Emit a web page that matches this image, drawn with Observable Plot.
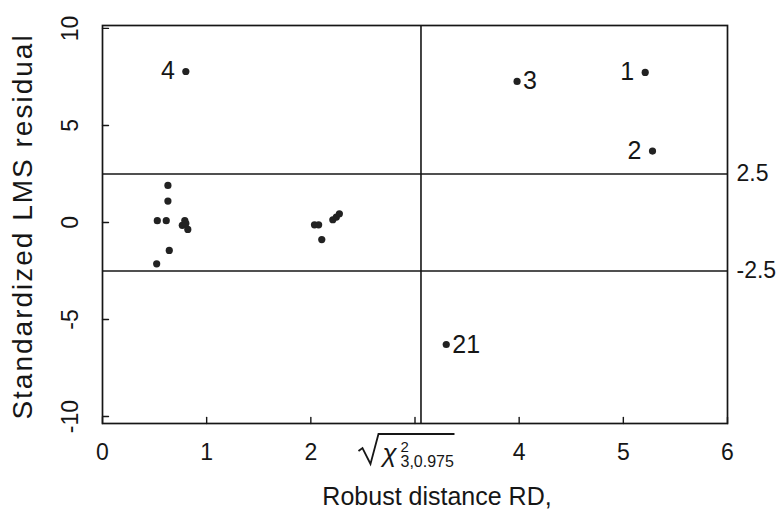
<!DOCTYPE html>
<html><head><meta charset="utf-8">
<script src="https://cdn.jsdelivr.net/npm/d3@7"></script>
<script src="https://cdn.jsdelivr.net/npm/@observablehq/plot@0.6"></script>
<style>body{margin:0;background:#fff}</style>
</head><body><div id="chart"></div>
<script>
// ---- data ----
const pointIds    = ["1","2","3","4","21", "","","","","","","","","","", "","","","","",""];
const rdValues    = [5.21, 5.28, 3.98, 0.80, 3.30,
                     0.628, 0.628, 0.526, 0.612, 0.790, 0.766, 0.819, 0.641, 0.520, 0.80,
                     2.035, 2.075, 2.105, 2.211, 2.245, 2.274];
const residValues = [7.73, 3.68, 7.27, 7.78, -6.29,
                     1.91, 1.10, 0.09, 0.09, 0.10, -0.15, -0.36, -1.44, -2.13, -0.05,
                     -0.12, -0.12, -0.88, 0.14, 0.28, 0.45];
const xTicks = [0, 1, 2, 3, 4, 5, 6];
const xTickLabels = ["0", "1", "2", "", "4", "5", "6"];
const yTicks = [-10, -5, 0, 5, 10];
const yTickLabels = ["-10", "-5", "0", "5", "10"];
const cutoffResid = [2.5, -2.5];
const cutoffResidLabels = ["2.5", "-2.5"];
const cutoffRd = Math.sqrt(9.348); // sqrt(chi2_{3,0.975})
const xTitle = "Robust distance RD,";
const yTitle = "Standardized LMS residual";
const leftLabelled = new Set(["1", "2", "4"]);

const points = rdValues.map((x, i) => ({x, y: residValues[i], id: pointIds[i]}));
const ink = "#161616";
const font = "'Liberation Sans', Arial, Helvetica, sans-serif";
const tickShape = {draw(ctx, l) { ctx.moveTo(0, 0); ctx.lineTo(0, -l); }};

const plot = Plot.plot({
  width: 784, height: 521,
  marginLeft: 102, marginRight: 57, marginTop: 25, marginBottom: 98,
  x: {domain: [0, 6], axis: null},
  y: {domain: [-10.36, 10.15], axis: null},
  style: {fontFamily: font, background: "#fff", color: ink},
  marks: [
    Plot.ruleY(cutoffResid, {y: d => d, stroke: ink, strokeWidth: 1.6}),
    Plot.ruleX([cutoffRd], {x: d => d, stroke: ink, strokeWidth: 1.6}),
    Plot.frame({stroke: ink, strokeWidth: 1.7}),
    Plot.vector(xTicks, {x: d => d, frameAnchor: "bottom", length: 6, rotate: 0, anchor: "start", shape: tickShape, stroke: ink, strokeWidth: 1.4}),
    Plot.vector(yTicks, {y: d => d, frameAnchor: "left", length: 6, rotate: 90, anchor: "start", shape: tickShape, stroke: ink, strokeWidth: 1.4}),
    Plot.dot(points, {x: "x", y: "y", r: 3.6, fill: "#222", stroke: "none"}),
    Plot.text(points.filter(d => leftLabelled.has(d.id)), {x: "x", y: "y", text: "id", textAnchor: "end", dx: -11, fontSize: 25, fill: ink}),
    Plot.text(points.filter(d => d.id && !leftLabelled.has(d.id)), {x: "x", y: "y", text: "id", textAnchor: "start", dx: 6, fontSize: 25, fill: ink}),
    Plot.text(xTicks, {x: d => d, text: (d, i) => xTickLabels[i], frameAnchor: "bottom", dy: 36, fontSize: 23, fill: ink}),
    Plot.text(yTicks, {y: d => d, text: (d, i) => yTickLabels[i], frameAnchor: "left", textAnchor: "middle", dx: -32, rotate: -90, fontSize: 23, fill: ink}),
    Plot.text(cutoffResid, {y: d => d, text: (d, i) => cutoffResidLabels[i], frameAnchor: "right", dx: 9, textAnchor: "start", fontSize: 23, fill: ink}),
    Plot.text([xTitle], {frameAnchor: "bottom", dy: 81, dx: 22, fontSize: 25, fill: ink}),
    Plot.text([yTitle], {frameAnchor: "left", textAnchor: "middle", dx: -79, dy: 2, rotate: -90, fontSize: 28, fill: ink, className: "ytitle"})
  ]
});

// slightly looser tracking of the vertical title, as in the reference
d3.select(plot).selectAll(".ytitle text").style("letter-spacing", "2px");

// sqrt(chi^2_{3,0.975}) label under the cutoff line
const svg = d3.select(plot);
const xc = plot.scale("x").apply(cutoffRd);
const yb = plot.scale("y").apply(-10.36);
const g = svg.append("g").attr("transform", `translate(${xc},${yb})`)
  .attr("fill", ink).attr("text-anchor", "start").style("font-family", font);
g.append("path").attr("d", "M-62,28 L-58,25 L-50,41 L-42,11 L34,11")
  .attr("fill", "none").attr("stroke", ink).attr("stroke-width", 1.8).attr("stroke-linejoin", "miter");
g.append("text").attr("x", -38).attr("y", 39).attr("text-anchor", "start").style("font-size", "26px").style("font-style", "italic").text("χ");
g.append("text").attr("x", -20).attr("y", 29).attr("text-anchor", "start").style("font-size", "15px").text("2");
g.append("text").attr("x", -20).attr("y", 44).attr("text-anchor", "start").style("font-size", "16px").text("3,0.975");

document.getElementById("chart").appendChild(plot);
</script>
</body></html>
